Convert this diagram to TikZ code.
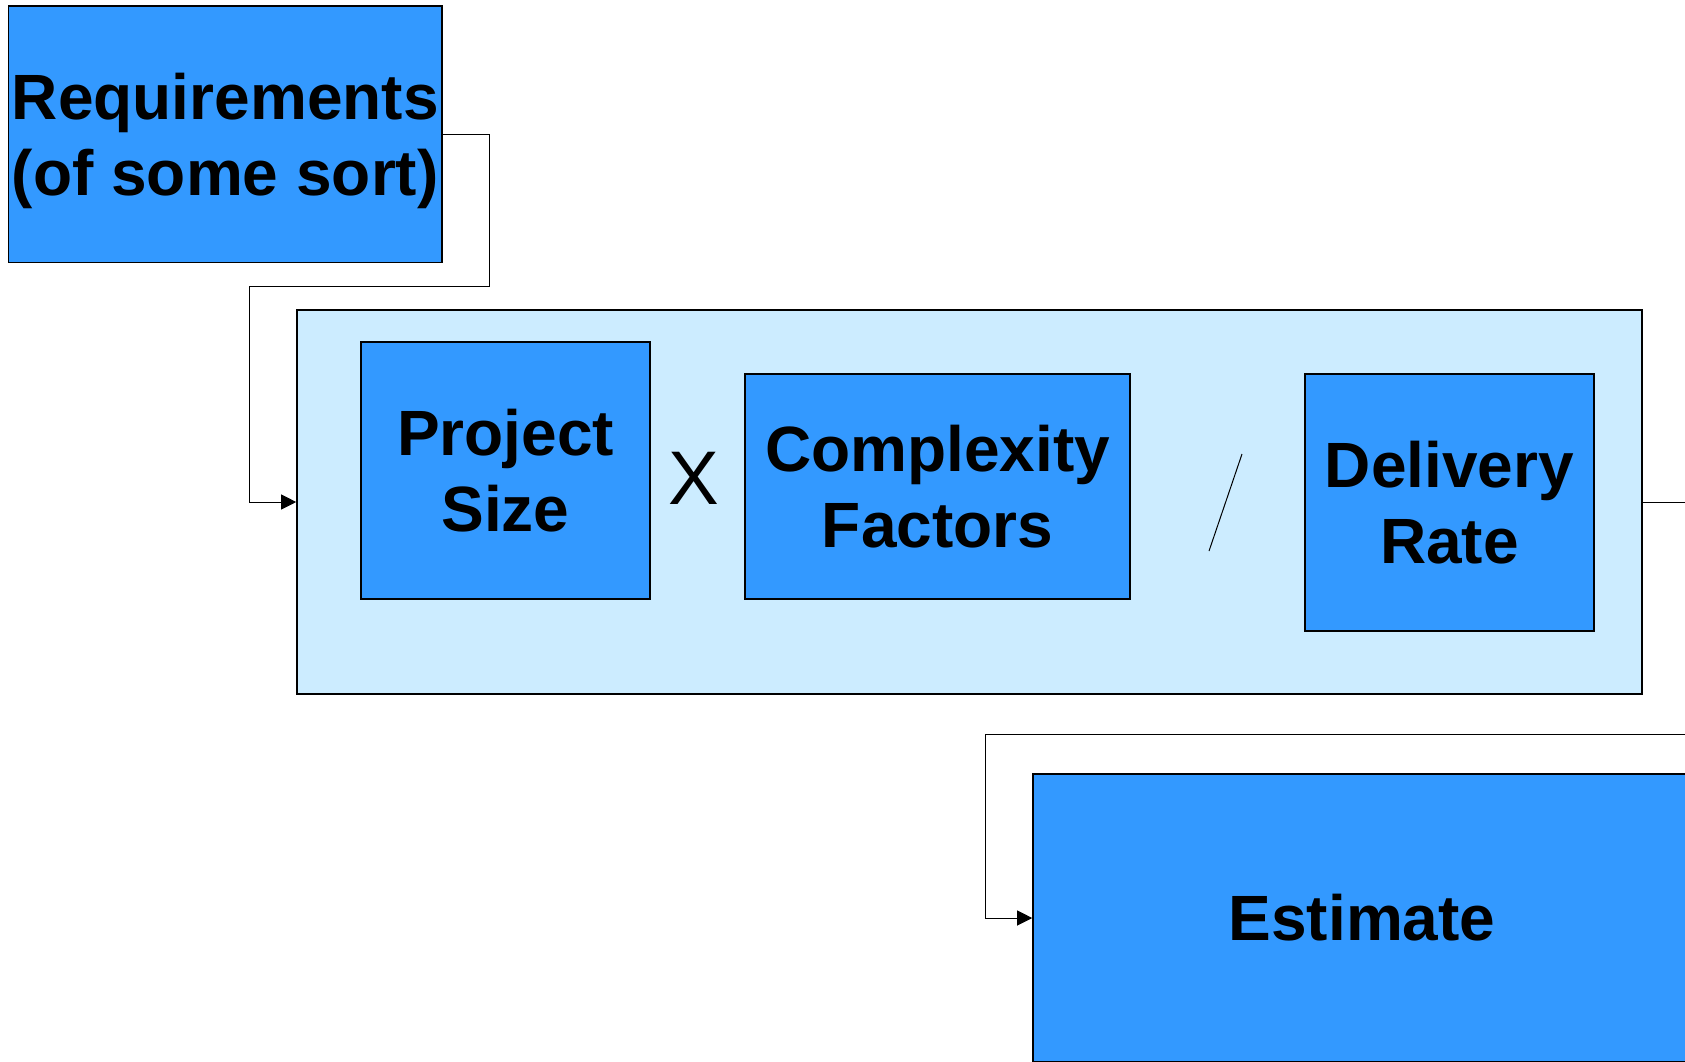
\documentclass[tikz,border=0pt]{standalone}
\usepackage{fontspec}
\setmainfont{Liberation Sans}
\usetikzlibrary{arrows.meta}

\definecolor{boxblue}{RGB}{51,153,255}
\definecolor{paleblue}{RGB}{204,236,255}

\tikzset{
  box/.style={draw=black, line width=0.8pt, fill=boxblue, inner sep=0pt,
    align=center, font=\fontsize{32}{38}\selectfont\bfseries},
  link/.style={line width=0.5pt, -{Triangle[length=7.5pt,width=7.5pt]}},
}

\begin{document}
\begin{tikzpicture}[x=0.5pt,y=-0.5pt]
                \useasboundingbox (0,0) rectangle (1685,1061);
                \clip (0,0) rectangle (1685,1061);

                % input
                \node[box, minimum width=216.7pt, minimum height=128.3pt]
                    (req) at (225.3,134.3)
                    {Requirements\\\raisebox{0pt}[\height][0pt]{(of some sort)}};

                % the formula
                \node[draw=black, line width=0.8pt, fill=paleblue,
                    minimum width=672.5pt, minimum height=192pt]
                    (formula) at (969.5,502) {};
                \node[box, minimum width=144.5pt, minimum height=128.5pt]
                    (size) at (505.5,470.5) {Project\\Size};
                \node[font=\fontsize{38}{40}\selectfont, inner sep=0pt]
                    (times) at (694,478) {X};
                \node[box, minimum width=192.5pt, minimum height=112.5pt]
                    (cplx) at (937.5,486.5) {Complexity\\Factors};
                \draw[line width=0.5pt] (1242,454) -- (1209,551);
                \node[box, minimum width=144.5pt, minimum height=128.5pt]
                    (rate) at (1449.5,502.3) {Delivery\\Rate};

                % output
                \node[box, minimum width=329pt, minimum height=144pt]
                    (est) at (1362,918) {Estimate};

                \draw[link] (req.east) -| (489,286) -| (249,502) -- (formula.west);
                \draw[link] (formula.east) -| (1710,734) -| (985,918) -- (est.west);
            \end{tikzpicture}
\end{document}
